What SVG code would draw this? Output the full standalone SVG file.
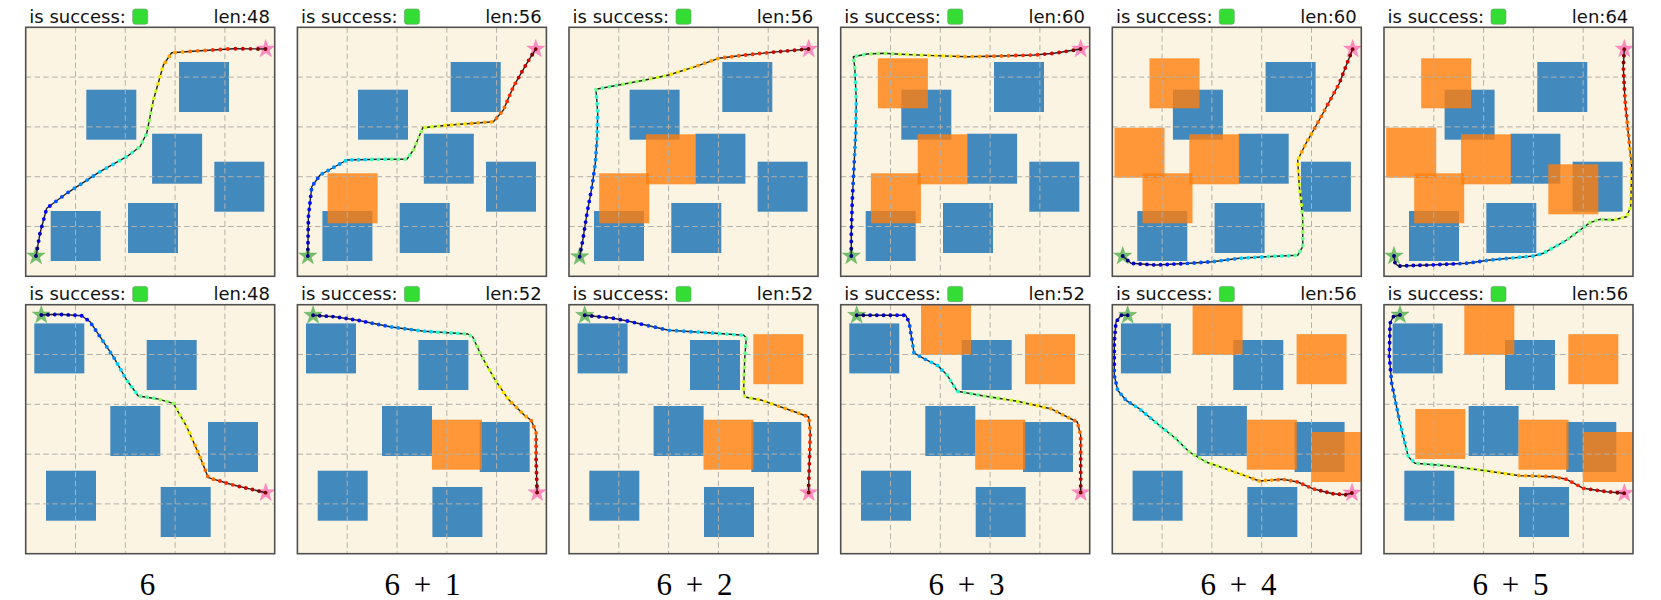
<svg xmlns="http://www.w3.org/2000/svg" xmlns:xlink="http://www.w3.org/1999/xlink" width="1661" height="600" viewBox="0 0 1661 600">
<style>
.bg{fill:#fcf4e2}
.bl{fill:#4289bd}
.or{fill:#ff7f0e;fill-opacity:.8}
.grid{fill:none;stroke:#b4b0a8;stroke-width:1;stroke-dasharray:5.5 3.3}
.frame{fill:none;stroke:#505050;stroke-width:1.6}
.ln{fill:none;stroke:#222;stroke-width:1.4;stroke-linejoin:round}
.dt{fill:none;stroke-width:3.9;stroke-linecap:round}
.n2{stroke-dasharray:0 1 0 9999}
.n3{stroke-dasharray:0 1 0 1 0 9999}
.n4{stroke-dasharray:0 1 0 1 0 1 0 9999}
.n5{stroke-dasharray:0 1 0 1 0 1 0 1 0 9999}
.c0{stroke:#000080}.c1{stroke:#0000cd}.c2{stroke:#0008ff}.c3{stroke:#004cff}
.c4{stroke:#0090ff}.c5{stroke:#00d4ff}.c6{stroke:#29ffce}.c7{stroke:#60ff97}
.c8{stroke:#97ff60}.c9{stroke:#ceff29}.c10{stroke:#ffe600}.c11{stroke:#ffa700}
.c12{stroke:#ff6800}.c13{stroke:#ff2900}.c14{stroke:#cd0000}.c15{stroke:#800000}
.ttl{font-family:"DejaVu Sans",sans-serif;font-size:18px;fill:#111}
.end{text-anchor:end}
.lab{font-family:"Liberation Serif","Times New Roman",serif;font-size:31px;fill:#000;text-anchor:middle;word-spacing:6px}
.ok{fill:#33dd33;stroke:#6a9a6a;stroke-width:.6}
.s0{fill:#3ea83e;fill-opacity:.7;stroke:#3ea83e;stroke-opacity:.7;stroke-width:.5}
.s1{fill:#ff69b4;fill-opacity:.75;stroke:#ff69b4;stroke-opacity:.75;stroke-width:.5}
</style>
<defs>
<clipPath id="clip"><rect width="249" height="249"/></clipPath>
<rect id="bg" class="bg" width="249" height="249"/>
<rect id="frame" class="frame" width="249" height="249"/>
<path id="grid" class="grid" d="M49.8,0V249M99.6,0V249M149.4,0V249M199.2,0V249M0,49.8H249M0,99.6H249M0,149.4H249M0,199.2H249"/>
<polygon id="star" points="0,-9.5 2.23,-3.07 9.04,-2.94 3.61,1.17 5.58,7.69 0,3.8 -5.58,7.69 -3.61,1.17 -9.04,-2.94 -2.23,-3.07"/>
<g id="blueT" class="bl">
<rect x="60.6" y="62.4" width="50" height="50"/>
<rect x="153.3" y="34.7" width="50" height="50"/>
<rect x="126.4" y="106.4" width="50" height="50"/>
<rect x="188.6" y="134.4" width="50" height="50"/>
<rect x="25" y="183.7" width="50" height="50"/>
<rect x="102.3" y="175.7" width="50" height="50"/>
</g>
<g id="blueB" class="bl">
<rect x="8.6" y="18.7" width="50" height="50"/>
<rect x="121" y="35.3" width="50" height="50"/>
<rect x="84.6" y="101.3" width="50" height="50"/>
<rect x="182.3" y="117.3" width="50" height="50"/>
<rect x="20.3" y="166" width="50" height="50"/>
<rect x="135" y="182.3" width="50" height="50"/>
</g>
<path id="pT1" pathLength="47.02" d="M10.3,228.7L14.3,206L21,181L41,166L74.3,144.4L101,129.4L114.3,119.4L121,106L127.7,72.7L137.7,37.7L146,25.4L174.3,23.4L207.7,21.4L240,21.7"/>
<path id="pT2" pathLength="55.02" d="M10.4,228.7L11,189.4L14.4,159.4L22.7,147.7L49.4,132.7L82.7,132L109.4,132L116,122.7L125.4,100.4L149.4,98L196,94.4L206,82.7L216,59.4L229.4,36L238.4,21.7"/>
<path id="pT3" pathLength="55.02" d="M10.7,229.4L13.8,212.7L18,186L23,159.3L26.3,136L28,112.7L28.7,86L27,62L49.7,57.7L76.3,52.7L99.7,47.7L126.3,39.3L149.7,31L176.3,27.7L209.7,24.3L239.7,21.7"/>
<path id="pT4" pathLength="59.02" d="M10.6,228.7L10.6,206L11.6,172.7L13.3,139.3L15,106L15.6,72.7L14,39.3L12.6,29.4L26.6,26.7L43.3,26L60,27L93.3,28.3L126.6,29.4L160,28.7L193.3,27.7L213.3,26L240,21.7"/>
<path id="pT5" pathLength="59.02" d="M10.4,228.7L18.7,236L43.7,237.7L77,236L100.4,234.4L127,231L153.7,229.4L185.4,228L190.4,219.4L190.4,189.4L187,159.4L185.4,132.7L193.7,116L207,92.7L227,56L240.4,21.7"/>
<path id="pT6" pathLength="63.02" d="M10,228.7L11,236L14.3,238.7L46,237.7L82.7,236L106,232.7L149.3,228.7L159.3,226L182.7,212.7L206,195.3L216,192L229.3,192.7L242.7,189.4L246.7,179.4L247.7,139.4L244.3,106L241,72.7L239.3,39.4L240.3,21.7"/>
<path id="pB1" pathLength="47.02" d="M15.6,10.3L32.6,9.6L56,11L64.3,17L74.3,32L87.6,52L101,75.3L112.6,91.3L131,94L147.6,98.6L161,122L174.3,152L182.6,173L207.6,180.3L240,188"/>
<path id="pB2" pathLength="51.02" d="M15.7,10.6L37,12L60.4,15.6L93.7,22.3L127,26.6L170.4,29.3L175.4,32.3L183.7,50.6L197,74L210.4,94L227,110.6L233.7,115.6L238.7,127.3L238.7,154L239.7,188"/>
<path id="pB3" pathLength="51.02" d="M15.7,10.6L43,13.3L59.7,16.6L99.7,25.6L143,28.3L174.7,30.6L177.3,33L175.7,54L174.7,84L175.7,92.3L193,95.6L226.3,107.3L239.7,112.3L241.3,127.3L239.7,180.6L239.7,188"/>
<path id="pB4" pathLength="51.02" d="M16,10.6L36.6,10.6L65,10.6L68.3,17.3L71.6,37.3L73.3,48.3L83.3,54L96.6,60.6L106.6,70.6L116.6,86.6L143.3,91.3L176.6,96.6L210,104L236.6,117.3L240,130.6L240,188"/>
<path id="pB5" pathLength="55.02" d="M15.4,10.6L8.7,10.6L3.7,17.3L2,37.3L2,70.6L5.4,85.6L13.7,95.6L27,104L47,120.6L63.7,134L77,147.3L93.7,157.3L127,169L147,176.3L170.4,174.6L185.4,177.3L200.4,184L220.4,189L233.7,190L239.7,188.3"/>
<path id="pB6" pathLength="55.02" d="M16,10.3L9.3,12L6,18.6L5.3,52L7.7,78.6L16,118.6L24.3,152L31,158.6L62.7,161L96,165.3L136,171L169.3,172L182.7,174.6L199.3,183.6L222.7,187L240.3,188.6"/>
</defs>

<g id="panel-top-1" transform="translate(25.7,27.3)">
<use href="#bg"/><use href="#blueT"/><use href="#grid"/>
<g clip-path="url(#clip)">
<use href="#star" class="s0" x="10.3" y="228.7"/><use href="#star" class="s1" x="240" y="21.7"/>
<use href="#pT1" class="ln"/>
<use href="#pT1" class="dt c0 n2"/><use href="#pT1" class="dt c1 n3" stroke-dashoffset="-2"/><use href="#pT1" class="dt c2 n3" stroke-dashoffset="-5"/><use href="#pT1" class="dt c3 n3" stroke-dashoffset="-8"/><use href="#pT1" class="dt c4 n4" stroke-dashoffset="-11"/><use href="#pT1" class="dt c5 n3" stroke-dashoffset="-15"/><use href="#pT1" class="dt c6 n3" stroke-dashoffset="-18"/><use href="#pT1" class="dt c7 n3" stroke-dashoffset="-21"/><use href="#pT1" class="dt c8 n3" stroke-dashoffset="-24"/><use href="#pT1" class="dt c9 n3" stroke-dashoffset="-27"/><use href="#pT1" class="dt c10 n3" stroke-dashoffset="-30"/><use href="#pT1" class="dt c11 n4" stroke-dashoffset="-33"/><use href="#pT1" class="dt c12 n3" stroke-dashoffset="-37"/><use href="#pT1" class="dt c13 n3" stroke-dashoffset="-40"/><use href="#pT1" class="dt c14 n3" stroke-dashoffset="-43"/><use href="#pT1" class="dt c15 n2" stroke-dashoffset="-46"/>
</g>
<use href="#frame"/>
<text class="ttl" x="3.6" y="-4.6">is success:</text><rect class="ok" x="107" y="-18.3" width="15" height="15.3" rx="2.5"/><text class="ttl end" x="244.3" y="-4.6">len:48</text>
</g>

<g id="panel-top-2" transform="translate(297.4,27.3)">
<use href="#bg"/><use href="#blueT"/>
<rect class="or" x="30.2" y="146" width="50" height="50"/>
<use href="#grid"/>
<g clip-path="url(#clip)">
<use href="#star" class="s0" x="10.4" y="228.7"/><use href="#star" class="s1" x="238.4" y="21.7"/>
<use href="#pT2" class="ln"/>
<use href="#pT2" class="dt c0 n2"/><use href="#pT2" class="dt c1 n4" stroke-dashoffset="-2"/><use href="#pT2" class="dt c2 n4" stroke-dashoffset="-6"/><use href="#pT2" class="dt c3 n3" stroke-dashoffset="-10"/><use href="#pT2" class="dt c4 n4" stroke-dashoffset="-13"/><use href="#pT2" class="dt c5 n4" stroke-dashoffset="-17"/><use href="#pT2" class="dt c6 n3" stroke-dashoffset="-21"/><use href="#pT2" class="dt c7 n4" stroke-dashoffset="-24"/><use href="#pT2" class="dt c8 n4" stroke-dashoffset="-28"/><use href="#pT2" class="dt c9 n3" stroke-dashoffset="-32"/><use href="#pT2" class="dt c10 n4" stroke-dashoffset="-35"/><use href="#pT2" class="dt c11 n4" stroke-dashoffset="-39"/><use href="#pT2" class="dt c12 n3" stroke-dashoffset="-43"/><use href="#pT2" class="dt c13 n4" stroke-dashoffset="-46"/><use href="#pT2" class="dt c14 n4" stroke-dashoffset="-50"/><use href="#pT2" class="dt c15 n2" stroke-dashoffset="-54"/>
</g>
<use href="#frame"/>
<text class="ttl" x="3.6" y="-4.6">is success:</text><rect class="ok" x="107" y="-18.3" width="15" height="15.3" rx="2.5"/><text class="ttl end" x="244.3" y="-4.6">len:56</text>
</g>

<g id="panel-top-3" transform="translate(569,27.3)">
<use href="#bg"/><use href="#blueT"/>
<rect class="or" x="30.2" y="146" width="50" height="50"/>
<rect class="or" x="77" y="107" width="50" height="50"/>
<use href="#grid"/>
<g clip-path="url(#clip)">
<use href="#star" class="s0" x="10.7" y="229.4"/><use href="#star" class="s1" x="239.7" y="21.7"/>
<use href="#pT3" class="ln"/>
<use href="#pT3" class="dt c0 n2"/><use href="#pT3" class="dt c1 n4" stroke-dashoffset="-2"/><use href="#pT3" class="dt c2 n4" stroke-dashoffset="-6"/><use href="#pT3" class="dt c3 n3" stroke-dashoffset="-10"/><use href="#pT3" class="dt c4 n4" stroke-dashoffset="-13"/><use href="#pT3" class="dt c5 n4" stroke-dashoffset="-17"/><use href="#pT3" class="dt c6 n3" stroke-dashoffset="-21"/><use href="#pT3" class="dt c7 n4" stroke-dashoffset="-24"/><use href="#pT3" class="dt c8 n4" stroke-dashoffset="-28"/><use href="#pT3" class="dt c9 n3" stroke-dashoffset="-32"/><use href="#pT3" class="dt c10 n4" stroke-dashoffset="-35"/><use href="#pT3" class="dt c11 n4" stroke-dashoffset="-39"/><use href="#pT3" class="dt c12 n3" stroke-dashoffset="-43"/><use href="#pT3" class="dt c13 n4" stroke-dashoffset="-46"/><use href="#pT3" class="dt c14 n4" stroke-dashoffset="-50"/><use href="#pT3" class="dt c15 n2" stroke-dashoffset="-54"/>
</g>
<use href="#frame"/>
<text class="ttl" x="3.6" y="-4.6">is success:</text><rect class="ok" x="107" y="-18.3" width="15" height="15.3" rx="2.5"/><text class="ttl end" x="244.3" y="-4.6">len:56</text>
</g>

<g id="panel-top-4" transform="translate(840.7,27.3)">
<use href="#bg"/><use href="#blueT"/>
<rect class="or" x="30.2" y="146" width="50" height="50"/>
<rect class="or" x="77" y="107" width="50" height="50"/>
<rect class="or" x="37.2" y="31" width="50" height="50"/>
<use href="#grid"/>
<g clip-path="url(#clip)">
<use href="#star" class="s0" x="10.6" y="228.7"/><use href="#star" class="s1" x="240" y="21.7"/>
<use href="#pT4" class="ln"/>
<use href="#pT4" class="dt c0 n2"/><use href="#pT4" class="dt c1 n4" stroke-dashoffset="-2"/><use href="#pT4" class="dt c2 n4" stroke-dashoffset="-6"/><use href="#pT4" class="dt c3 n4" stroke-dashoffset="-10"/><use href="#pT4" class="dt c4 n4" stroke-dashoffset="-14"/><use href="#pT4" class="dt c5 n4" stroke-dashoffset="-18"/><use href="#pT4" class="dt c6 n4" stroke-dashoffset="-22"/><use href="#pT4" class="dt c7 n4" stroke-dashoffset="-26"/><use href="#pT4" class="dt c8 n4" stroke-dashoffset="-30"/><use href="#pT4" class="dt c9 n4" stroke-dashoffset="-34"/><use href="#pT4" class="dt c10 n4" stroke-dashoffset="-38"/><use href="#pT4" class="dt c11 n4" stroke-dashoffset="-42"/><use href="#pT4" class="dt c12 n4" stroke-dashoffset="-46"/><use href="#pT4" class="dt c13 n4" stroke-dashoffset="-50"/><use href="#pT4" class="dt c14 n4" stroke-dashoffset="-54"/><use href="#pT4" class="dt c15 n2" stroke-dashoffset="-58"/>
</g>
<use href="#frame"/>
<text class="ttl" x="3.6" y="-4.6">is success:</text><rect class="ok" x="107" y="-18.3" width="15" height="15.3" rx="2.5"/><text class="ttl end" x="244.3" y="-4.6">len:60</text>
</g>

<g id="panel-top-5" transform="translate(1112.3,27.3)">
<use href="#bg"/><use href="#blueT"/>
<rect class="or" x="30.2" y="146" width="50" height="50"/>
<rect class="or" x="77" y="107" width="50" height="50"/>
<rect class="or" x="37.2" y="31" width="50" height="50"/>
<rect class="or" x="2.2" y="100.4" width="50" height="50"/>
<use href="#grid"/>
<g clip-path="url(#clip)">
<use href="#star" class="s0" x="10.4" y="228.7"/><use href="#star" class="s1" x="240.4" y="21.7"/>
<use href="#pT5" class="ln"/>
<use href="#pT5" class="dt c0 n2"/><use href="#pT5" class="dt c1 n4" stroke-dashoffset="-2"/><use href="#pT5" class="dt c2 n4" stroke-dashoffset="-6"/><use href="#pT5" class="dt c3 n4" stroke-dashoffset="-10"/><use href="#pT5" class="dt c4 n4" stroke-dashoffset="-14"/><use href="#pT5" class="dt c5 n4" stroke-dashoffset="-18"/><use href="#pT5" class="dt c6 n4" stroke-dashoffset="-22"/><use href="#pT5" class="dt c7 n4" stroke-dashoffset="-26"/><use href="#pT5" class="dt c8 n4" stroke-dashoffset="-30"/><use href="#pT5" class="dt c9 n4" stroke-dashoffset="-34"/><use href="#pT5" class="dt c10 n4" stroke-dashoffset="-38"/><use href="#pT5" class="dt c11 n4" stroke-dashoffset="-42"/><use href="#pT5" class="dt c12 n4" stroke-dashoffset="-46"/><use href="#pT5" class="dt c13 n4" stroke-dashoffset="-50"/><use href="#pT5" class="dt c14 n4" stroke-dashoffset="-54"/><use href="#pT5" class="dt c15 n2" stroke-dashoffset="-58"/>
</g>
<use href="#frame"/>
<text class="ttl" x="3.6" y="-4.6">is success:</text><rect class="ok" x="107" y="-18.3" width="15" height="15.3" rx="2.5"/><text class="ttl end" x="244.3" y="-4.6">len:60</text>
</g>

<g id="panel-top-6" transform="translate(1384,27.3)">
<use href="#bg"/><use href="#blueT"/>
<rect class="or" x="30.2" y="146" width="50" height="50"/>
<rect class="or" x="77" y="107" width="50" height="50"/>
<rect class="or" x="37.2" y="31" width="50" height="50"/>
<rect class="or" x="2.2" y="100.4" width="50" height="50"/>
<rect class="or" x="164.3" y="137" width="50" height="50"/>
<use href="#grid"/>
<g clip-path="url(#clip)">
<use href="#star" class="s0" x="10" y="228.7"/><use href="#star" class="s1" x="240.3" y="21.7"/>
<use href="#pT6" class="ln"/>
<use href="#pT6" class="dt c0 n3"/><use href="#pT6" class="dt c1 n4" stroke-dashoffset="-3"/><use href="#pT6" class="dt c2 n4" stroke-dashoffset="-7"/><use href="#pT6" class="dt c3 n4" stroke-dashoffset="-11"/><use href="#pT6" class="dt c4 n4" stroke-dashoffset="-15"/><use href="#pT6" class="dt c5 n5" stroke-dashoffset="-19"/><use href="#pT6" class="dt c6 n4" stroke-dashoffset="-24"/><use href="#pT6" class="dt c7 n4" stroke-dashoffset="-28"/><use href="#pT6" class="dt c8 n4" stroke-dashoffset="-32"/><use href="#pT6" class="dt c9 n4" stroke-dashoffset="-36"/><use href="#pT6" class="dt c10 n5" stroke-dashoffset="-40"/><use href="#pT6" class="dt c11 n4" stroke-dashoffset="-45"/><use href="#pT6" class="dt c12 n4" stroke-dashoffset="-49"/><use href="#pT6" class="dt c13 n4" stroke-dashoffset="-53"/><use href="#pT6" class="dt c14 n4" stroke-dashoffset="-57"/><use href="#pT6" class="dt c15 n3" stroke-dashoffset="-61"/>
</g>
<use href="#frame"/>
<text class="ttl" x="3.6" y="-4.6">is success:</text><rect class="ok" x="107" y="-18.3" width="15" height="15.3" rx="2.5"/><text class="ttl end" x="244.3" y="-4.6">len:64</text>
</g>

<g id="panel-bottom-1" transform="translate(25.7,304.7)">
<use href="#bg"/><use href="#blueB"/><use href="#grid"/>
<g clip-path="url(#clip)">
<use href="#star" class="s0" x="15.6" y="10.3"/><use href="#star" class="s1" x="240" y="188"/>
<use href="#pB1" class="ln"/>
<use href="#pB1" class="dt c0 n2"/><use href="#pB1" class="dt c1 n3" stroke-dashoffset="-2"/><use href="#pB1" class="dt c2 n3" stroke-dashoffset="-5"/><use href="#pB1" class="dt c3 n3" stroke-dashoffset="-8"/><use href="#pB1" class="dt c4 n4" stroke-dashoffset="-11"/><use href="#pB1" class="dt c5 n3" stroke-dashoffset="-15"/><use href="#pB1" class="dt c6 n3" stroke-dashoffset="-18"/><use href="#pB1" class="dt c7 n3" stroke-dashoffset="-21"/><use href="#pB1" class="dt c8 n3" stroke-dashoffset="-24"/><use href="#pB1" class="dt c9 n3" stroke-dashoffset="-27"/><use href="#pB1" class="dt c10 n3" stroke-dashoffset="-30"/><use href="#pB1" class="dt c11 n4" stroke-dashoffset="-33"/><use href="#pB1" class="dt c12 n3" stroke-dashoffset="-37"/><use href="#pB1" class="dt c13 n3" stroke-dashoffset="-40"/><use href="#pB1" class="dt c14 n3" stroke-dashoffset="-43"/><use href="#pB1" class="dt c15 n2" stroke-dashoffset="-46"/>
</g>
<use href="#frame"/>
<text class="ttl" x="3.6" y="-4.6">is success:</text><rect class="ok" x="107" y="-18.3" width="15" height="15.3" rx="2.5"/><text class="ttl end" x="244.3" y="-4.6">len:48</text>
</g>

<g id="panel-bottom-2" transform="translate(297.4,304.7)">
<use href="#bg"/><use href="#blueB"/>
<rect class="or" x="134.5" y="115" width="50" height="50"/>
<use href="#grid"/>
<g clip-path="url(#clip)">
<use href="#star" class="s0" x="15.7" y="10.6"/><use href="#star" class="s1" x="239.7" y="188"/>
<use href="#pB2" class="ln"/>
<use href="#pB2" class="dt c0 n2"/><use href="#pB2" class="dt c1 n4" stroke-dashoffset="-2"/><use href="#pB2" class="dt c2 n3" stroke-dashoffset="-6"/><use href="#pB2" class="dt c3 n3" stroke-dashoffset="-9"/><use href="#pB2" class="dt c4 n4" stroke-dashoffset="-12"/><use href="#pB2" class="dt c5 n3" stroke-dashoffset="-16"/><use href="#pB2" class="dt c6 n4" stroke-dashoffset="-19"/><use href="#pB2" class="dt c7 n3" stroke-dashoffset="-23"/><use href="#pB2" class="dt c8 n3" stroke-dashoffset="-26"/><use href="#pB2" class="dt c9 n4" stroke-dashoffset="-29"/><use href="#pB2" class="dt c10 n3" stroke-dashoffset="-33"/><use href="#pB2" class="dt c11 n4" stroke-dashoffset="-36"/><use href="#pB2" class="dt c12 n3" stroke-dashoffset="-40"/><use href="#pB2" class="dt c13 n3" stroke-dashoffset="-43"/><use href="#pB2" class="dt c14 n4" stroke-dashoffset="-46"/><use href="#pB2" class="dt c15 n2" stroke-dashoffset="-50"/>
</g>
<use href="#frame"/>
<text class="ttl" x="3.6" y="-4.6">is success:</text><rect class="ok" x="107" y="-18.3" width="15" height="15.3" rx="2.5"/><text class="ttl end" x="244.3" y="-4.6">len:52</text>
</g>

<g id="panel-bottom-3" transform="translate(569,304.7)">
<use href="#bg"/><use href="#blueB"/>
<rect class="or" x="134.5" y="115" width="50" height="50"/>
<rect class="or" x="184.3" y="29.5" width="50" height="50"/>
<use href="#grid"/>
<g clip-path="url(#clip)">
<use href="#star" class="s0" x="15.7" y="10.6"/><use href="#star" class="s1" x="239.7" y="188"/>
<use href="#pB3" class="ln"/>
<use href="#pB3" class="dt c0 n2"/><use href="#pB3" class="dt c1 n4" stroke-dashoffset="-2"/><use href="#pB3" class="dt c2 n3" stroke-dashoffset="-6"/><use href="#pB3" class="dt c3 n3" stroke-dashoffset="-9"/><use href="#pB3" class="dt c4 n4" stroke-dashoffset="-12"/><use href="#pB3" class="dt c5 n3" stroke-dashoffset="-16"/><use href="#pB3" class="dt c6 n4" stroke-dashoffset="-19"/><use href="#pB3" class="dt c7 n3" stroke-dashoffset="-23"/><use href="#pB3" class="dt c8 n3" stroke-dashoffset="-26"/><use href="#pB3" class="dt c9 n4" stroke-dashoffset="-29"/><use href="#pB3" class="dt c10 n3" stroke-dashoffset="-33"/><use href="#pB3" class="dt c11 n4" stroke-dashoffset="-36"/><use href="#pB3" class="dt c12 n3" stroke-dashoffset="-40"/><use href="#pB3" class="dt c13 n3" stroke-dashoffset="-43"/><use href="#pB3" class="dt c14 n4" stroke-dashoffset="-46"/><use href="#pB3" class="dt c15 n2" stroke-dashoffset="-50"/>
</g>
<use href="#frame"/>
<text class="ttl" x="3.6" y="-4.6">is success:</text><rect class="ok" x="107" y="-18.3" width="15" height="15.3" rx="2.5"/><text class="ttl end" x="244.3" y="-4.6">len:52</text>
</g>

<g id="panel-bottom-4" transform="translate(840.7,304.7)">
<use href="#bg"/><use href="#blueB"/>
<rect class="or" x="134.5" y="115" width="50" height="50"/>
<rect class="or" x="184.3" y="29.5" width="50" height="50"/>
<rect class="or" x="80.3" y="0.3" width="50" height="50"/>
<use href="#grid"/>
<g clip-path="url(#clip)">
<use href="#star" class="s0" x="16" y="10.6"/><use href="#star" class="s1" x="240" y="188"/>
<use href="#pB4" class="ln"/>
<use href="#pB4" class="dt c0 n2"/><use href="#pB4" class="dt c1 n4" stroke-dashoffset="-2"/><use href="#pB4" class="dt c2 n3" stroke-dashoffset="-6"/><use href="#pB4" class="dt c3 n3" stroke-dashoffset="-9"/><use href="#pB4" class="dt c4 n4" stroke-dashoffset="-12"/><use href="#pB4" class="dt c5 n3" stroke-dashoffset="-16"/><use href="#pB4" class="dt c6 n4" stroke-dashoffset="-19"/><use href="#pB4" class="dt c7 n3" stroke-dashoffset="-23"/><use href="#pB4" class="dt c8 n3" stroke-dashoffset="-26"/><use href="#pB4" class="dt c9 n4" stroke-dashoffset="-29"/><use href="#pB4" class="dt c10 n3" stroke-dashoffset="-33"/><use href="#pB4" class="dt c11 n4" stroke-dashoffset="-36"/><use href="#pB4" class="dt c12 n3" stroke-dashoffset="-40"/><use href="#pB4" class="dt c13 n3" stroke-dashoffset="-43"/><use href="#pB4" class="dt c14 n4" stroke-dashoffset="-46"/><use href="#pB4" class="dt c15 n2" stroke-dashoffset="-50"/>
</g>
<use href="#frame"/>
<text class="ttl" x="3.6" y="-4.6">is success:</text><rect class="ok" x="107" y="-18.3" width="15" height="15.3" rx="2.5"/><text class="ttl end" x="244.3" y="-4.6">len:52</text>
</g>

<g id="panel-bottom-5" transform="translate(1112.3,304.7)">
<use href="#bg"/><use href="#blueB"/>
<rect class="or" x="134.5" y="115" width="50" height="50"/>
<rect class="or" x="184.3" y="29.5" width="50" height="50"/>
<rect class="or" x="80.3" y="0.3" width="50" height="50"/>
<rect class="or" x="198.8" y="127.3" width="50" height="50"/>
<use href="#grid"/>
<g clip-path="url(#clip)">
<use href="#star" class="s0" x="15.4" y="10.6"/><use href="#star" class="s1" x="239.7" y="188.3"/>
<use href="#pB5" class="ln"/>
<use href="#pB5" class="dt c0 n2"/><use href="#pB5" class="dt c1 n4" stroke-dashoffset="-2"/><use href="#pB5" class="dt c2 n4" stroke-dashoffset="-6"/><use href="#pB5" class="dt c3 n3" stroke-dashoffset="-10"/><use href="#pB5" class="dt c4 n4" stroke-dashoffset="-13"/><use href="#pB5" class="dt c5 n4" stroke-dashoffset="-17"/><use href="#pB5" class="dt c6 n3" stroke-dashoffset="-21"/><use href="#pB5" class="dt c7 n4" stroke-dashoffset="-24"/><use href="#pB5" class="dt c8 n4" stroke-dashoffset="-28"/><use href="#pB5" class="dt c9 n3" stroke-dashoffset="-32"/><use href="#pB5" class="dt c10 n4" stroke-dashoffset="-35"/><use href="#pB5" class="dt c11 n4" stroke-dashoffset="-39"/><use href="#pB5" class="dt c12 n3" stroke-dashoffset="-43"/><use href="#pB5" class="dt c13 n4" stroke-dashoffset="-46"/><use href="#pB5" class="dt c14 n4" stroke-dashoffset="-50"/><use href="#pB5" class="dt c15 n2" stroke-dashoffset="-54"/>
</g>
<use href="#frame"/>
<text class="ttl" x="3.6" y="-4.6">is success:</text><rect class="ok" x="107" y="-18.3" width="15" height="15.3" rx="2.5"/><text class="ttl end" x="244.3" y="-4.6">len:56</text>
</g>

<g id="panel-bottom-6" transform="translate(1384,304.7)">
<use href="#bg"/><use href="#blueB"/>
<rect class="or" x="134.5" y="115" width="50" height="50"/>
<rect class="or" x="184.3" y="29.5" width="50" height="50"/>
<rect class="or" x="80.3" y="0.3" width="50" height="50"/>
<rect class="or" x="198.8" y="127.3" width="50" height="50"/>
<rect class="or" x="31.3" y="104.3" width="50" height="50"/>
<use href="#grid"/>
<g clip-path="url(#clip)">
<use href="#star" class="s0" x="16" y="10.3"/><use href="#star" class="s1" x="240.3" y="188.6"/>
<use href="#pB6" class="ln"/>
<use href="#pB6" class="dt c0 n2"/><use href="#pB6" class="dt c1 n4" stroke-dashoffset="-2"/><use href="#pB6" class="dt c2 n4" stroke-dashoffset="-6"/><use href="#pB6" class="dt c3 n3" stroke-dashoffset="-10"/><use href="#pB6" class="dt c4 n4" stroke-dashoffset="-13"/><use href="#pB6" class="dt c5 n4" stroke-dashoffset="-17"/><use href="#pB6" class="dt c6 n3" stroke-dashoffset="-21"/><use href="#pB6" class="dt c7 n4" stroke-dashoffset="-24"/><use href="#pB6" class="dt c8 n4" stroke-dashoffset="-28"/><use href="#pB6" class="dt c9 n3" stroke-dashoffset="-32"/><use href="#pB6" class="dt c10 n4" stroke-dashoffset="-35"/><use href="#pB6" class="dt c11 n4" stroke-dashoffset="-39"/><use href="#pB6" class="dt c12 n3" stroke-dashoffset="-43"/><use href="#pB6" class="dt c13 n4" stroke-dashoffset="-46"/><use href="#pB6" class="dt c14 n4" stroke-dashoffset="-50"/><use href="#pB6" class="dt c15 n2" stroke-dashoffset="-54"/>
</g>
<use href="#frame"/>
<text class="ttl" x="3.6" y="-4.6">is success:</text><rect class="ok" x="107" y="-18.3" width="15" height="15.3" rx="2.5"/><text class="ttl end" x="244.3" y="-4.6">len:56</text>
</g>

<g id="labels">
<text class="lab" x="147.5" y="595">6</text>
<text class="lab" x="422.5" y="595">6 + 1</text>
<text class="lab" x="694.5" y="595">6 + 2</text>
<text class="lab" x="966.5" y="595">6 + 3</text>
<text class="lab" x="1238.5" y="595">6 + 4</text>
<text class="lab" x="1510.5" y="595">6 + 5</text>
</g>
</svg>
